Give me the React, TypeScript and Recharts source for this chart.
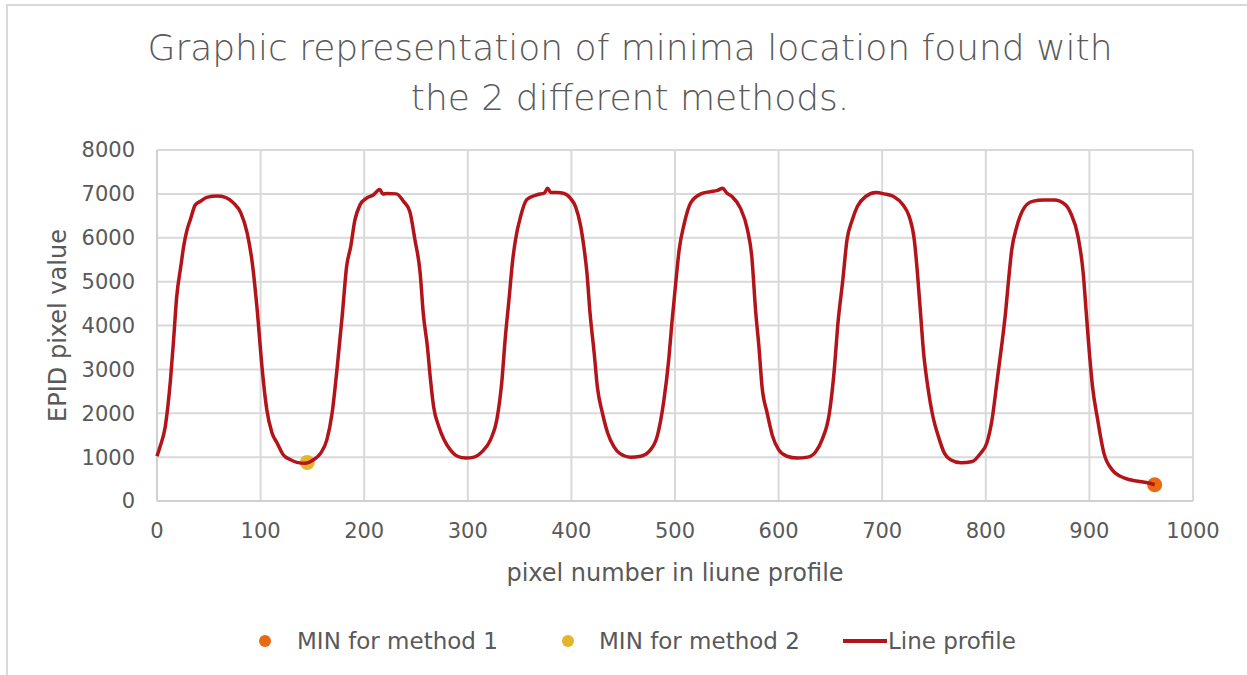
import React from "react";
import {
  ComposedChart,
  Line,
  Scatter,
  XAxis,
  YAxis,
  CartesianGrid,
  Label,
} from "recharts";

// pixel index along the profile and the EPID value read at it
const pixelIdx: number[] = [
  0, 3, 8, 13, 16, 19, 23, 26, 29, 32, 37, 42, 48, 58, 66, 74, 81, 87, 92, 97,
  101, 106, 111, 116, 122, 129, 135, 143, 151, 158, 164, 169, 174, 179, 183, 187,
  191, 196, 202, 209, 215, 218, 222, 231, 238, 244, 249, 254, 257, 261, 264, 267,
  272, 277, 283, 290, 298, 306, 314, 322, 328, 333, 336, 340, 343, 346, 351, 357,
  367, 374, 377, 380, 386, 393, 399, 404, 409, 412, 415, 418, 422, 425, 430, 435,
  441, 447, 457, 467, 475, 483, 489, 494, 497, 501, 504, 509, 515, 525, 534, 541,
  546, 550, 555, 563, 570, 574, 578, 581, 584, 589, 594, 600, 608, 618, 628, 636,
  642, 649, 654, 657, 662, 666, 671, 676, 684, 694, 702, 711, 720, 726, 731, 734,
  737, 740, 744, 749, 754, 760, 766, 776, 787, 795, 801, 806, 811, 816, 819, 822,
  825, 830, 837, 845, 856, 866, 877, 882, 889, 894, 897, 900, 903, 908, 914, 922,
  934, 947, 955, 963,
];
const profileVals: number[] = [
  1020, 1240, 1700, 2760, 3670, 4650, 5350, 5840, 6180, 6400, 6750, 6830, 6920, 6950, 6920, 6790, 6560, 6110, 5420, 4280,
  3140, 2080, 1550, 1320, 1050, 940, 880, 860, 940, 1090, 1400, 2000, 3060, 4280, 5340, 5800,
  6400, 6750, 6900, 6980, 7100, 7000, 7010, 7000, 6830, 6600, 5950, 5200, 4280, 3520, 2760, 2150,
  1700, 1400, 1170, 1020, 980, 1000, 1130, 1400, 1850, 2760, 3670, 4650, 5420, 5950, 6490, 6870,
  6980, 7020, 7130, 7030, 7030, 7010, 6900, 6710, 6260, 5800, 5200, 4280, 3370, 2610, 2000, 1550,
  1240, 1080, 1000, 1020, 1130, 1490, 2250, 3230, 4060, 5040, 5720, 6330, 6790, 7000, 7050, 7080,
  7130, 7020, 6940, 6680, 6180, 5600, 4280, 3520, 2610, 2000, 1490, 1170, 1020, 980, 1000, 1130,
  1400, 2000, 3060, 3980, 5040, 5950, 6400, 6710, 6940, 7030, 7000, 6940, 6750, 6490, 5950, 5200,
  4280, 3370, 2610, 1920, 1490, 1090, 940, 870, 900, 1090, 1320, 1850, 2760, 3670, 4280, 5040,
  5720, 6260, 6680, 6830, 6860, 6860, 6750, 6560, 6030, 5200, 4280, 3370, 2610, 1850, 1090, 710,
  520, 450, 420, 370,
];

// minima found by the two methods
const min1X = [963];
const min1Y = [370];
const min2X = [145];
const min2Y = [880];

const xTicks = [0, 100, 200, 300, 400, 500, 600, 700, 800, 900, 1000];
const yTicks = [0, 1000, 2000, 3000, 4000, 5000, 6000, 7000, 8000];

const lineData = pixelIdx.map((x, i) => ({ x, v: profileVals[i] }));
const min1Data = min1X.map((x, i) => ({ x, v: min1Y[i] }));
const min2Data = min2X.map((x, i) => ({ x, v: min2Y[i] }));

const FONT = "'DejaVu Sans', sans-serif";
const TXT = "#595959";
const LINE_COLOR = "#B2141A";
const M1_COLOR = "#EA6A12";
const M2_COLOR = "#E5B428";

const dotShape = (color: string) => (props: any) =>
  <circle cx={props.cx} cy={props.cy} r={7.5} fill={color} />;

const YLabel = (props: any) => {
  const vb = props.viewBox;
  const cx = 58;
  const cy = vb.y + vb.height / 2;
  return (
    <text
      x={cx}
      y={cy}
      transform={`rotate(-90 ${cx} ${cy})`}
      textAnchor="middle"
      dominantBaseline="central"
      fontFamily={FONT}
      fontSize={24}
      fill={TXT}
    >
      EPID pixel value
    </text>
  );
};

const XLabel = (props: any) => {
  const vb = props.viewBox;
  return (
    <text
      x={vb.x + vb.width / 2}
      y={573}
      textAnchor="middle"
      dominantBaseline="central"
      fontFamily={FONT}
      fontSize={24}
      fill={TXT}
    >
      pixel number in liune profile
    </text>
  );
};

const legendText: React.CSSProperties = {
  position: "absolute",
  top: 641,
  transform: "translateY(-50%)",
  fontFamily: FONT,
  fontSize: 23,
  color: TXT,
  whiteSpace: "nowrap",
};

const App: React.FC = () => (
  <div
    style={{
      position: "absolute",
      left: 0,
      top: 0,
      width: 1247,
      height: 675,
      background: "#fff",
      overflow: "hidden",
    }}
  >
    <div
      style={{
        position: "absolute",
        left: 6,
        top: 4,
        width: 1300,
        height: 700,
        borderLeft: "2px solid #d9d9d9",
        borderTop: "2px solid #d9d9d9",
      }}
    />
    <div
      style={{
        position: "absolute",
        left: 0,
        top: 23,
        width: 1260,
        textAlign: "center",
        fontFamily: FONT,
        fontWeight: 200,
        fontSize: 36,
        lineHeight: "50px",
        color: TXT,
      }}
    >
      Graphic representation of minima location found with
      <br />
      the 2 different methods.
    </div>
    <div style={{ position: "absolute", left: 0, top: 0 }}>
      <ComposedChart
        width={1247}
        height={675}
        margin={{ top: 150, right: 54, bottom: 144, left: 97 }}
      >
        <CartesianGrid stroke="#d9d9d9" strokeWidth={2} />
        <XAxis
          dataKey="x"
          type="number"
          domain={[0, 1000]}
          ticks={xTicks}
          interval={0}
          height={30}
          tickLine={false}
          tickSize={0}
          tickMargin={22}
          axisLine={{ stroke: "#d0d0d0", strokeWidth: 2 }}
          tick={{ fill: TXT, fontSize: 21, fontFamily: FONT }}
          allowDuplicatedCategory={false}
        >
          <Label content={<XLabel />} />
        </XAxis>
        <YAxis
          type="number"
          domain={[0, 8000]}
          ticks={yTicks}
          interval={0}
          width={60}
          tickLine={false}
          tickSize={0}
          tickMargin={22}
          axisLine={{ stroke: "#d0d0d0", strokeWidth: 2 }}
          tick={{ fill: TXT, fontSize: 21, fontFamily: FONT }}
        >
          <Label content={<YLabel />} />
        </YAxis>
        <Scatter
          name="MIN for method 1"
          data={min1Data}
          dataKey="v"
          fill={M1_COLOR}
          shape={dotShape(M1_COLOR)}
          zIndex={350}
          isAnimationActive={false}
        />
        <Scatter
          name="MIN for method 2"
          data={min2Data}
          dataKey="v"
          fill={M2_COLOR}
          shape={dotShape(M2_COLOR)}
          zIndex={350}
          isAnimationActive={false}
        />
        <Line
          name="Line profile"
          data={lineData}
          dataKey="v"
          type="monotone"
          stroke={LINE_COLOR}
          strokeWidth={3.5}
          strokeLinejoin="round"
          dot={false}
          activeDot={false}
          zIndex={700}
          isAnimationActive={false}
        />
      </ComposedChart>
    </div>

    {/* legend */}
    <div
      style={{
        position: "absolute",
        left: 259,
        top: 635,
        width: 12,
        height: 12,
        borderRadius: "50%",
        background: M1_COLOR,
      }}
    />
    <div style={{ ...legendText, left: 297 }}>MIN for method 1</div>
    <div
      style={{
        position: "absolute",
        left: 562,
        top: 635,
        width: 12,
        height: 12,
        borderRadius: "50%",
        background: M2_COLOR,
      }}
    />
    <div style={{ ...legendText, left: 599 }}>MIN for method 2</div>
    <div
      style={{
        position: "absolute",
        left: 843,
        top: 639,
        width: 44,
        height: 4,
        background: LINE_COLOR,
      }}
    />
    <div style={{ ...legendText, left: 888 }}>Line profile</div>
  </div>
);

export default App;
